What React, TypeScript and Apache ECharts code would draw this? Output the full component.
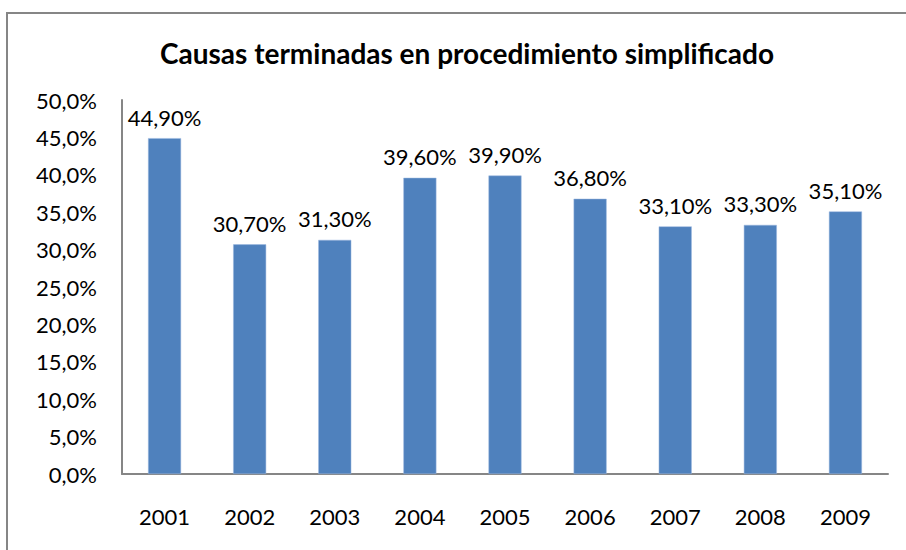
import React, { useEffect, useRef } from "react";
import * as echarts from "echarts";

const years = ["2001", "2002", "2003", "2004", "2005", "2006", "2007", "2008", "2009"];
const values = [44.9, 30.7, 31.3, 39.6, 39.9, 36.8, 33.1, 33.3, 35.1];
const titleText = "Causas terminadas en procedimiento simplificado";

export default function App() {
  const ref = useRef<HTMLDivElement>(null);
  useEffect(() => {
    document.body.style.margin = "0";
    const chart = echarts.init(ref.current!, null, { renderer: "svg" });
    const font = "Lato, 'Open Sans', sans-serif";
    chart.setOption({
      animation: false,
      backgroundColor: "#ffffff",
      title: {
        text: titleText,
        left: 462,
        top: 34,
        textAlign: "center",
        textStyle: { fontFamily: font, fontWeight: "bold", fontSize: 28, color: "#000" },
      },
      graphic: [
        {
          type: "rect",
          shape: { x: 7, y: 13, width: 920, height: 560 },
          style: { fill: "none", stroke: "#868686", lineWidth: 2 },
          silent: true,
        },
      ],
      grid: { left: 122, right: 18, top: 100, bottom: 76 },
      xAxis: {
        type: "category",
        data: years,
        axisLine: { lineStyle: { color: "#868686", width: 2 } },
        axisTick: { show: false },
        axisLabel: { color: "#000", fontFamily: font, fontSize: 22, margin: 31 },
      },
      yAxis: {
        type: "value",
        min: 0,
        max: 50,
        interval: 5,
        splitLine: { show: false },
        axisLine: { show: true, lineStyle: { color: "#868686", width: 2 } },
        axisTick: { show: false },
        axisLabel: {
          color: "#000",
          fontFamily: font,
          fontSize: 22,
          margin: 25,
          formatter: (v: number) => v.toFixed(1).replace(".", ",") + "%",
        },
      },
      series: [
        {
          type: "bar",
          data: values,
          barWidth: 33,
          itemStyle: { color: "#4F81BD", borderColor: "#9DB9E0", borderWidth: 0.5 },
          label: {
            show: true,
            position: "top",
            distance: 10,
            color: "#000",
            fontFamily: font,
            fontSize: 22,
            formatter: (p: any) => p.value.toFixed(2).replace(".", ",") + "%",
          },
        },
      ],
    });
    return () => chart.dispose();
  }, []);
  return <div ref={ref} style={{ width: 906, height: 550 }} />;
}
